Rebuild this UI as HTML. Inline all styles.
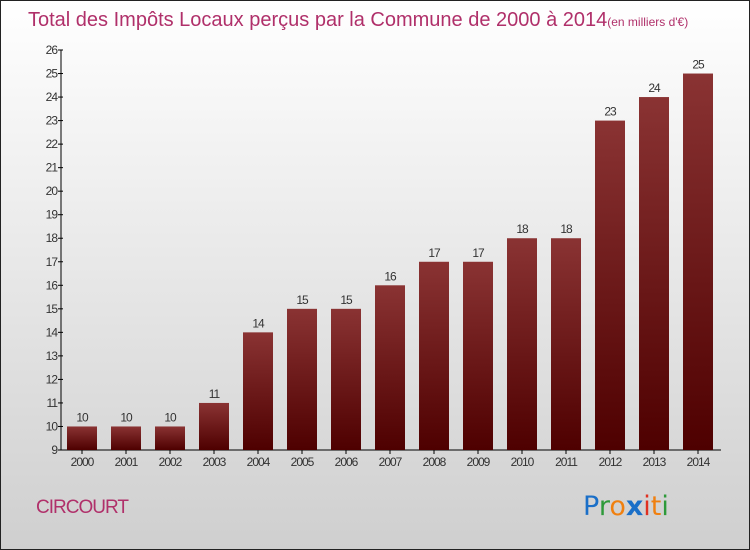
<!DOCTYPE html>
<html><head><meta charset="utf-8"><style>
html,body{margin:0;padding:0}
body{width:750px;height:550px;overflow:hidden;font-family:"Liberation Sans",sans-serif}
#wrap{position:absolute;left:0;top:0;width:748px;height:548px;border:1px solid #222;background:linear-gradient(#ffffff,#cfcfcf)}
</style></head><body>
<div id="wrap">
<svg width="750" height="550" style="position:absolute;left:-1px;top:-1px">
<defs><linearGradient id="bg" x1="0" y1="0" x2="0" y2="1"><stop offset="0" stop-color="#8a3333"/><stop offset="1" stop-color="#4e0000"/></linearGradient></defs>
<text x="28" y="26" font-size="20" fill="#b0306a">Total des Impôts Locaux perçus par la Commune de 2000 à 2014<tspan font-size="12">(en milliers d'€)</tspan></text>
<g id="yax"></g><g id="bars"></g>
<text x="36" y="513" font-size="19" fill="#b0306a" letter-spacing="-1">CIRCOURT</text>
<text x="583" y="515" font-size="27" font-family="'DejaVu Sans',sans-serif"><tspan fill="#1a6fc8">P</tspan><tspan fill="#2e9a3a">r</tspan><tspan fill="#f08010">o</tspan><tspan fill="#1a6fc8" font-weight="bold">x</tspan><tspan fill="#e03020">i</tspan><tspan fill="#f08010">t</tspan><tspan fill="#2e9a3a">i</tspan></text>
</svg></div>
<script>
const years=["2000","2001","2002","2003","2004","2005","2006","2007","2008","2009","2010","2011","2012","2013","2014"];
const values=[10,10,10,11,14,15,15,16,17,17,18,18,23,24,25];
const yTicks=[9,10,11,12,13,14,15,16,17,18,19,20,21,22,23,24,25,26];
const NS="http://www.w3.org/2000/svg";
const y=v=>450-(v-9)*(400/17);
const x=i=>82+i*44;
function mk(t,a,p){const e=document.createElementNS(NS,t);for(const k in a)e.setAttribute(k,a[k]);p.appendChild(e);return e;}
const ya=document.getElementById('yax'),bg=document.getElementById('bars');
let l=mk('line',{x1:61,y1:y(26),x2:61,y2:450,stroke:'#000'},ya);


l=mk('line',{x1:61,y1:450,x2:721,y2:450,stroke:'#000'},ya);


yTicks.forEach(v=>{
 mk('line',{x1:58,y1:y(v),x2:63,y2:y(v),stroke:'#000'},ya);
 const t=mk('text',{x:57,y:y(v)+4,'font-size':12,'text-anchor':'end',fill:'#333','letter-spacing':'-1'},ya);t.textContent=v;
 
 
});
years.forEach((yr,i)=>{
 const v=values[i];
 const r=mk('rect',{x:x(i)-15,y:y(v),width:30,height:450-y(v),fill:'url(#bg)'},bg);
 
 
 mk('line',{x1:x(i),y1:450,x2:x(i),y2:454,stroke:'#000'},bg);
 const t=mk('text',{x:x(i),y:466,'font-size':12,'text-anchor':'middle',fill:'#333','letter-spacing':'-1'},bg);t.textContent=yr;
 
 
 const vl=mk('text',{x:x(i),y:y(v)-5,'font-size':12,'text-anchor':'middle',fill:'#333','letter-spacing':'-1'},bg);vl.textContent=v;
 
 
});
</script>
</body></html>
